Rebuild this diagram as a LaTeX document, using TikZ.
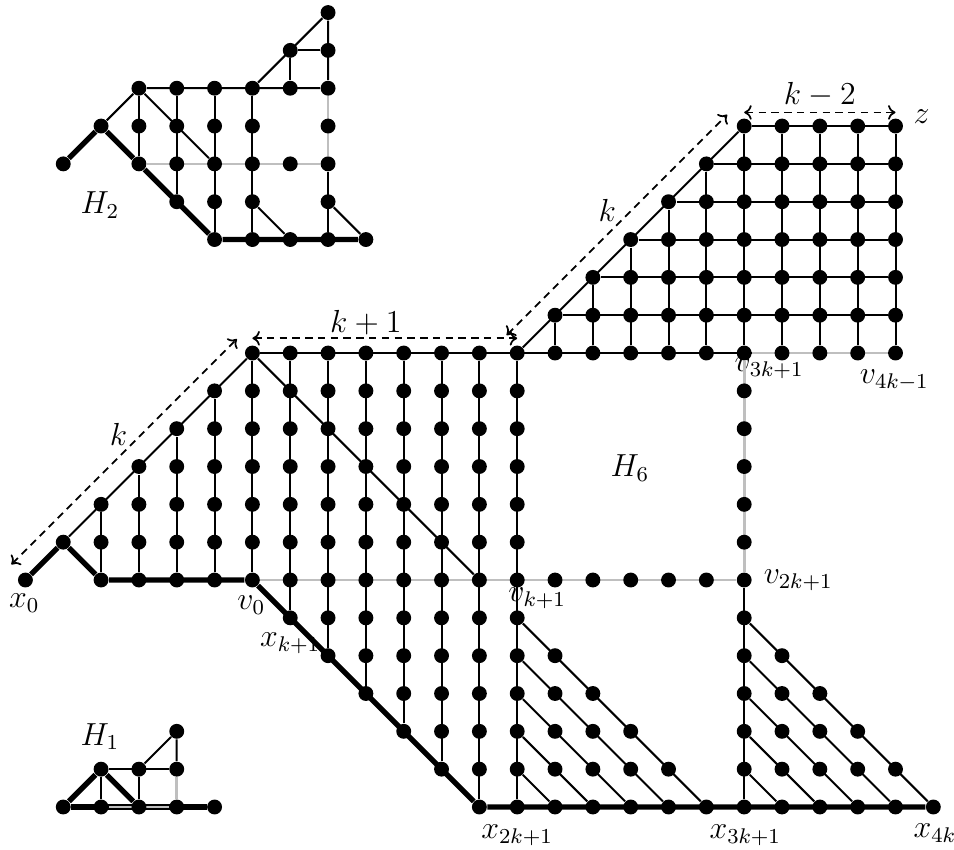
\documentclass[tikz,border=0pt]{standalone}
\usetikzlibrary{arrows.meta}
\pgfdeclarelayer{lab}
\pgfdeclarelayer{bg}
\pgfsetlayers{lab,bg,main}
\begin{document}
\begin{tikzpicture}[x=0.5cm,y=0.5cm,
  vtx/.style={circle,fill=black,inner sep=0pt,minimum size=5.6pt},
  thinedge/.style={line width=0.75pt},
  thickedge/.style={line width=2pt},
  greyedge/.style={line width=1pt,draw=black!25},
  dimarrow/.style={line width=0.65pt,dash pattern=on 2.8pt off 2pt,
    {To[length=2.8pt,width=5.5pt]}-{To[length=2.8pt,width=5.5pt]}},
  lbl/.style={font=\large,inner sep=0pt}]
\useasboundingbox (-6.672,-7.111) rectangle (18.546,15.332);

% ---------- main graph: vertices ----------
\node[vtx] (m-6_0) at (-6,0) {};
\node[vtx] (m-5_1) at (-5,1) {};
\foreach \c in {-4,...,0}{
  \pgfmathtruncatemacro\tp{\c+6}
  \foreach \r in {0,...,\tp} \node[vtx] (m\c_\r) at (\c,\r) {};
}
\foreach \c in {1,...,7}{
  \pgfmathtruncatemacro\bt{max(-\c,-6)}
  \foreach \r in {\bt,...,6} \node[vtx] (m\c_\r) at (\c,\r) {};
}
\foreach \r in {-6,...,-2}{
  \pgfmathtruncatemacro\e{6-\r}
  \foreach \c in {8,...,\e} \node[vtx] (m\c_\r) at (\c,\r) {};
}
\foreach \r in {-6,...,-1}{
  \pgfmathtruncatemacro\e{12-\r}
  \foreach \c in {13,...,\e} \node[vtx] (m\c_\r) at (\c,\r) {};
}
\foreach \c in {8,...,13} \node[vtx] (m\c_0) at (\c,0) {};
\foreach \r in {1,...,5} \node[vtx] (m13_\r) at (13,\r) {};
\foreach \c in {8,...,17} \node[vtx] (m\c_6) at (\c,6) {};
\foreach \r in {7,...,12}{
  \pgfmathtruncatemacro\s{\r+1}
  \foreach \c in {\s,...,17} \node[vtx] (m\c_\r) at (\c,\r) {};
}

% ---------- H2 vertices ----------
\begin{scope}[shift={(-5,11)}]
\foreach \c/\r in {7/4,6/3,7/3,2/2,3/2,4/2,5/2,6/2,7/2,1/1,2/1,3/1,4/1,5/1,7/1,
  0/0,2/0,3/0,4/0,5/0,6/0,7/0,3/-1,4/-1,5/-1,7/-1,4/-2,5/-2,6/-2,7/-2,8/-2}
  \node[vtx] (a\c_\r) at (\c,\r) {};
\end{scope}

% ---------- H1 vertices ----------
\begin{scope}[shift={(-5,-6)}]
\foreach \c/\r in {0/0,1/0,2/0,3/0,4/0,1/1,2/1,3/1,3/2}
  \node[vtx] (b\c_\r) at (\c,\r) {};
\end{scope}

% ---------- edges ----------
\begin{pgfonlayer}{bg}
\draw[thickedge] (m-6_0) -- (m-5_1) -- (m-4_0) -- (m0_0) -- (m6_-6) -- (m18_-6);
\draw[thinedge] (m-5_1) -- (m0_6) -- (m6_0);
\foreach \c in {-4,...,0}{
  \pgfmathtruncatemacro\tp{\c+6}
  \draw[thinedge] (m\c_0) -- (m\c_\tp);
}
\draw[thinedge] (m0_6) -- (m17_6);
\foreach \c in {1,...,7}{
  \pgfmathtruncatemacro\bt{max(-\c,-6)}
  \draw[thinedge] (m\c_6) -- (m\c_\bt);
}
\foreach \r in {-5,...,-1}{
  \pgfmathtruncatemacro\e{\r+13}
  \pgfmathtruncatemacro\f{\r+19}
  \draw[thinedge] (m7_\r) -- (m\e_-6);
  \draw[thinedge] (m13_\r) -- (m\f_-6);
}
\draw[thinedge] (m13_0) -- (m13_-6);
\draw[thinedge] (m7_6) -- (m13_12);
\foreach \r in {7,...,12}{
  \pgfmathtruncatemacro\s{\r+1}
  \draw[thinedge] (m\s_\r) -- (m17_\r);
}
\foreach \c in {8,...,13}{
  \pgfmathtruncatemacro\t{\c-1}
  \draw[thinedge] (m\c_\t) -- (m\c_6);
}
\foreach \c in {14,...,17} \draw[thinedge] (m\c_12) -- (m\c_6);
\draw[greyedge] (m0_0) -- (m13_0) -- (m13_6) -- (m17_6);

% H2
\draw[thickedge] (a0_0) -- (a1_1) -- (a2_0) -- (a4_-2) -- (a8_-2);
\draw[thinedge] (a1_1) -- (a2_2) -- (a7_2);
\draw[thinedge] (a5_2) -- (a7_4) -- (a7_2);
\draw[thinedge] (a6_3) -- (a7_3);
\draw[thinedge] (a6_3) -- (a6_2);
\draw[thinedge] (a2_2) -- (a4_0);
\draw[thinedge] (a2_2) -- (a2_0);
\draw[thinedge] (a3_2) -- (a3_-1);
\draw[thinedge] (a4_2) -- (a4_-2);
\draw[thinedge] (a5_2) -- (a5_-2);
\draw[thinedge] (a7_0) -- (a7_-2);
\draw[thinedge] (a5_-1) -- (a6_-2);
\draw[thinedge] (a7_-1) -- (a8_-2);
\draw[greyedge] (a2_0) -- (a7_0) -- (a7_2);

% H1
\draw[thickedge] (b0_0) -- (b1_1) -- (b2_0);
\draw[thickedge] (b0_0) -- (b4_0);
\draw[thinedge] (b1_1) -- (b3_1);
\draw[thinedge] (b1_1) -- (b1_0);
\draw[thinedge] (b2_1) -- (b2_0);
\draw[thinedge] (b2_1) -- (b3_2) -- (b3_1);
\draw[greyedge] (b1_0) -- (b3_0) -- (b3_1);

% dimension arrows
\coordinate (d1a) at (-6.37,0.41);
\coordinate (d1b) at (-0.41,6.37);
\coordinate (d2a) at (0,6.39);
\coordinate (d2b) at (7,6.39);
\coordinate (d3a) at (6.72,6.47);
\coordinate (d3b) at (12.55,12.3);
\coordinate (d4a) at (13,12.36);
\coordinate (d4b) at (17,12.36);
\draw[dimarrow] (d1a) -- (d1b);
\draw[dimarrow] (d2a) -- (d2b);
\draw[dimarrow] (d3a) -- (d3b);
\draw[dimarrow] (d4a) -- (d4b);
\end{pgfonlayer}

% ---------- labels ----------
\begin{pgfonlayer}{lab}
\node[lbl] (lx0) at (-6.03,-0.62) {$x_0$};
\node[lbl] (lv0) at (-0.03,-0.66) {$v_0$};
\node[lbl] (lxk1) at (1.0,-1.67) {$x_{k+1}$};
\node[lbl] (lvk1) at (7.53,-0.48) {$v_{k+1}$};
\node[lbl] (lv2k1) at (14.43,0.0) {$v_{2k+1}$};
\node[lbl] (lx2k1) at (7.0,-6.74) {$x_{2k+1}$};
\node[lbl] (lx3k1) at (13.03,-6.74) {$x_{3k+1}$};
\node[lbl] (lx4k) at (18.04,-6.7) {$x_{4k}$};
\node[lbl] (lv3k1) at (13.66,5.6) {$v_{3k+1}$};
\node[lbl] (lv4k) at (16.97,5.29) {$v_{4k-1}$};
\node[lbl] (lz) at (17.69,12.25) {$z$};
\node[lbl] (lH6) at (9.98,2.95) {$H_6$};
\node[lbl] (lH2) at (-4.03,9.91) {$H_2$};
\node[lbl] (lH1) at (-4.03,-4.14) {$H_1$};
\node[lbl] (lk1) at (3.0,6.8) {$k+1$};
\node[lbl] (lka) at (-3.54,3.86) {$k$};
\node[lbl] (lkb) at (9.38,9.78) {$k$};
\node[lbl] (lk2) at (15.0,12.82) {$k-2$};
\end{pgfonlayer}
\end{tikzpicture}
\end{document}
